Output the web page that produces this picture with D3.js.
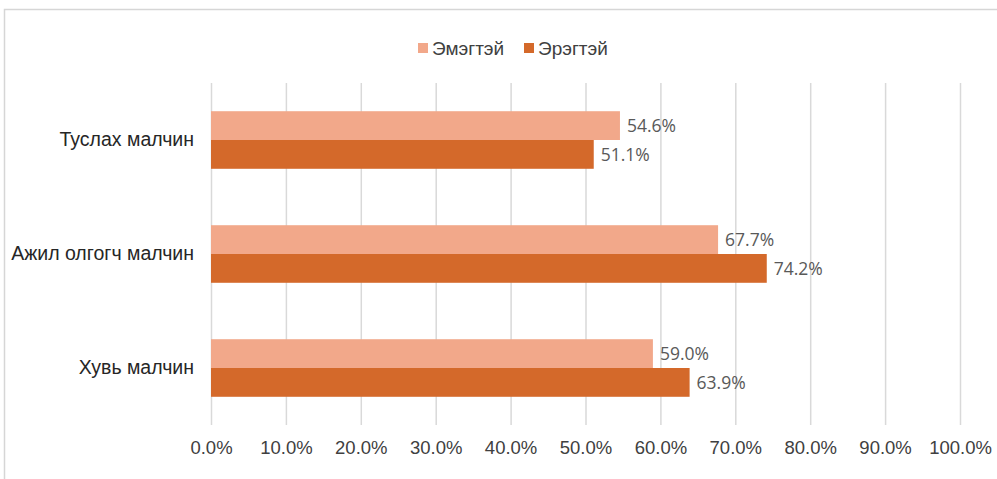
<!DOCTYPE html>
<html><head><meta charset="utf-8">
<script src="https://cdn.jsdelivr.net/npm/d3@7/dist/d3.min.js"></script>
<style>body{margin:0;background:#fff;}svg{display:block;}</style>
</head><body>
<svg id="c" width="997" height="479"></svg>
<script>
const categories = ["Туслах малчин", "Ажил олгогч малчин", "Хувь малчин"];
const seriesNames = ["Эмэгтэй", "Эрэгтэй"];
const female = [54.6, 67.7, 59.0];
const male = [51.1, 74.2, 63.9];
const tickValues = [0,10,20,30,40,50,60,70,80,90,100];
const colors = ["#F2A88A", "#D4692A"];

const svg = d3.select("#c");
// border
svg.append("path").attr("d","M4.5,479 L4.5,9.5 L997,9.5").attr("fill","none").attr("stroke","#d6d6d6").attr("stroke-width",1.5);

const x = d3.scaleLinear().domain([0,100]).range([211,960]);
const y = d3.scaleBand().domain(categories).range([83,425]).paddingInner(0.495).paddingOuter(0.2475);
const y1 = d3.scaleBand().domain(seriesNames).range([0,y.bandwidth()]);

// gridlines
svg.append("g").selectAll("line").data(tickValues).join("line")
  .attr("x1",d=>x(d)+0.5).attr("x2",d=>x(d)+0.5).attr("y1",83).attr("y2",425)
  .attr("stroke","#d9d9d9").attr("stroke-width",1.5);

// axis labels
const xAxis = d3.axisBottom(x).tickValues(tickValues).tickFormat(d=>d.toFixed(1)+"%").tickSize(0).tickPadding(16);
const ga = svg.append("g").attr("transform","translate(0,425)").call(xAxis);
ga.select(".domain").remove();
ga.selectAll("text").attr("font-family","'Liberation Sans', Arial, sans-serif").attr("font-size",18.5).attr("fill","#404040");

// category labels
const yAxis = d3.axisLeft(y).tickSize(0).tickPadding(17);
const gy = svg.append("g").attr("transform","translate(211,0)").call(yAxis);
gy.select(".domain").remove();
gy.selectAll("text").attr("font-family","'Liberation Sans', Arial, sans-serif").attr("font-size",19.5).attr("fill","#262626");

const data = categories.map((c,i)=>({c, vals:[{s:seriesNames[0],v:female[i]},{s:seriesNames[1],v:male[i]}]}));
const g = svg.append("g").selectAll("g").data(data).join("g").attr("transform",d=>`translate(0,${y(d.c)})`);
g.selectAll("rect").data(d=>d.vals).join("rect")
  .attr("x",x(0)).attr("y",d=>y1(d.s)).attr("width",d=>x(d.v)-x(0)).attr("height",y1.bandwidth())
  .attr("fill",(d,i)=>colors[i]);
g.selectAll("text").data(d=>d.vals).join("text")
  .attr("x",d=>x(d.v)+7).attr("y",d=>y1(d.s)+y1.bandwidth()/2).attr("dy","0.36em")
  .attr("font-family","'Open Sans', sans-serif").attr("font-size",17.5).attr("fill","#595959")
  .text(d=>d.v.toFixed(1)+"%");

// legend
const legX = [418, 524];
const lg = svg.append("g").selectAll("g").data(seriesNames).join("g").attr("transform",(d,i)=>`translate(${legX[i]},0)`);
lg.append("rect").attr("x",0).attr("y",43).attr("width",10).attr("height",10).attr("fill",(d,i)=>colors[i]);
lg.append("text").attr("x",14).attr("y",48).attr("dy","0.36em")
  .attr("font-family","'Liberation Sans', Arial, sans-serif").attr("font-size",19).attr("fill","#404040").text(d=>d);
</script>
</body></html>
